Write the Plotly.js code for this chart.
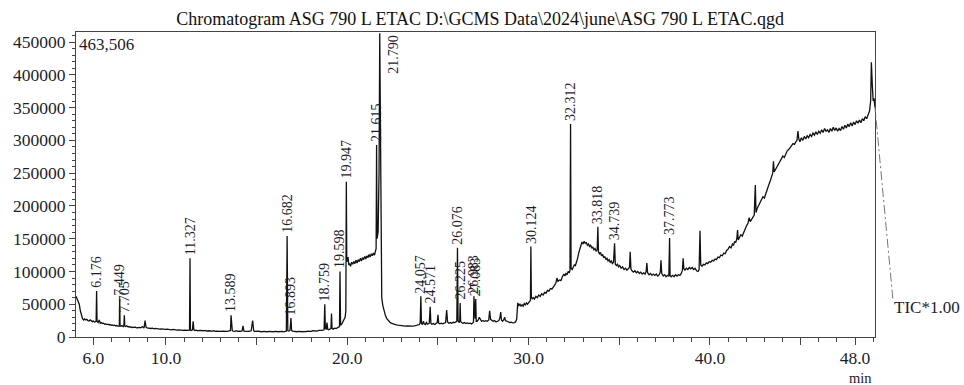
<!DOCTYPE html>
<html>
<head>
<meta charset="utf-8">
<script src="https://cdn.plot.ly/plotly-3.0.1.min.js"></script>
<style>html,body{margin:0;padding:0;background:#fff;}#chart{width:964px;height:385px;}</style>
</head>
<body>
<div id="chart"></div>
<script>
// Retention time (min) and TIC intensity
const ticPoints = [
[5.04,62000],[5.10,58000],[5.16,55000],[5.22,50000],[5.28,40000],[5.34,32000],[5.40,28000],[5.46,26000],[5.52,27500],[5.58,26000],[5.64,27000],[5.70,25000],[5.76,24500],[5.82,26000],[5.88,24000],[5.94,23500],[6.00,24500],[6.06,23000],[6.12,23500],
[6.15,24000],[6.176,70000],[6.20,24000],[6.26,22000],[6.32,26000],[6.38,21000],[6.44,22000],[6.50,20500],[6.56,21000],[6.62,19500],[6.68,20000],[6.74,19000],[6.80,19500],[6.86,18500],[6.92,19000],[6.98,18000],[7.04,18500],[7.10,17500],[7.16,18000],[7.22,17000],[7.28,17500],[7.34,16500],[7.40,17000],
[7.43,17000],[7.449,58000],[7.47,17000],[7.52,16500],[7.58,17500],[7.64,16000],[7.68,17000],[7.705,33000],[7.73,17000],[7.78,16000],[7.84,17000],[7.90,15500],[7.96,16000],[8.02,15000],[8.08,15500],[8.14,14500],[8.20,15000],[8.26,14500],[8.32,15000],[8.38,14000],[8.44,14500],[8.50,14000],[8.56,14500],[8.62,14000],[8.70,16000],[8.78,14000],
[8.80,15000],[8.85,25000],[8.90,15000],[8.96,14000],[9.02,13500],[9.10,14000],[9.18,13000],[9.26,13500],[9.34,12500],[9.42,13000],[9.50,12500],[9.58,13000],[9.66,12000],[9.74,12500],[9.82,12000],[9.90,12500],[9.98,11500],[10.06,12000],[10.14,11500],[10.22,12000],[10.30,11000],[10.38,11500],[10.46,11000],[10.54,11500],[10.62,10500],[10.70,11000],[10.78,10500],[10.86,11000],[10.94,10000],[11.02,10500],[11.10,10000],[11.18,10500],[11.26,10000],[11.30,10500],
[11.327,120000],[11.35,10500],[11.40,10000],[11.46,11000],[11.50,24000],[11.54,11000],[11.60,10000],[11.68,10500],[11.76,9500],[11.84,10000],[11.92,9500],[12.00,10000],[12.08,9500],[12.16,10000],[12.24,9000],[12.32,9500],[12.40,9000],[12.48,9500],[12.56,9000],[12.64,9500],[12.72,8500],[12.80,9000],[12.88,8500],[12.96,9000],[13.04,8500],[13.12,9000],[13.20,8500],[13.28,9000],[13.36,8500],[13.44,9000],[13.52,9500],[13.56,10000],
[13.589,33000],[13.62,12000],[13.66,9500],[13.72,9000],[13.80,8500],[13.88,9500],[13.96,8500],[14.04,9000],[14.12,8500],[14.20,9500],[14.25,17000],[14.30,9000],[14.38,8500],[14.46,9000],[14.54,8500],[14.62,9000],[14.70,9500],[14.78,25000],[14.84,9500],[14.90,8500],[14.98,9000],[15.06,8500],[15.14,9000],[15.22,8000],[15.30,8500],[15.38,8000],[15.46,8500],[15.54,8000],[15.62,8500],[15.70,8000],[15.78,8500],[15.86,8000],[15.94,8500],[16.02,8000],[16.10,8500],[16.18,8000],[16.26,8500],[16.34,8000],[16.42,8500],[16.50,8000],[16.58,8500],[16.64,9000],
[16.682,154000],[16.72,9500],[16.78,9000],[16.84,10000],[16.893,29000],[16.93,10000],[16.98,9000],[17.06,8500],[17.14,9000],[17.22,8000],[17.30,8500],[17.38,8000],[17.46,8500],[17.54,8000],[17.62,8500],[17.70,8000],[17.78,9000],[17.86,8500],[17.94,9000],[18.02,8500],[18.10,9500],[18.18,9000],[18.26,9500],[18.34,9000],[18.42,10000],[18.50,9500],[18.58,10000],[18.66,10500],[18.72,11000],
[18.759,50000],[18.79,13000],[18.84,12000],[18.88,22000],[18.92,12000],[18.98,11000],[19.04,12000],[19.10,13000],[19.13,36000],[19.16,13000],[19.22,12000],[19.30,13500],[19.38,13000],[19.46,14000],[19.54,15000],[19.57,16000],[19.598,100000],[19.63,18000],[19.70,20000],[19.76,23000],[19.82,26000],[19.88,30000],[19.92,40000],
[19.947,237000],[19.97,120000],[20.00,115000],[20.04,122000],[20.08,110000],[20.12,112000],[20.18,108000],[20.24,114000],[20.30,111000],[20.36,115000],[20.42,112000],[20.48,117000],[20.54,113000],[20.60,118000],[20.66,115000],[20.72,120000],[20.78,116000],[20.84,121000],[20.90,118000],[20.96,123000],[21.02,119000],[21.08,124000],[21.14,121000],[21.20,126000],[21.26,122000],[21.32,127000],[21.38,124000],[21.44,128000],[21.50,125000],[21.56,130000],[21.59,135000],
[21.615,293000],[21.64,150000],[21.70,160000],[21.75,250000],[21.79,463506],[21.82,300000],[21.86,90000],[21.90,60000],[21.96,48000],[22.02,40000],[22.10,33000],[22.18,28000],[22.26,25000],[22.34,23000],[22.42,21000],[22.50,20000],[22.60,19000],[22.70,18500],[22.80,18000],[22.90,17500],[23.00,17000],[23.10,17500],[23.20,16500],[23.30,17000],[23.40,16500],[23.50,17000],[23.60,16500],[23.70,17000],[23.80,17500],[23.90,18000],[23.98,19000],[24.02,22000],
[24.057,62000],[24.09,21000],[24.14,19000],[24.20,24000],[24.24,20000],[24.30,19000],[24.36,22000],[24.42,19500],[24.48,20000],[24.52,21000],[24.571,46000],[24.61,21000],[24.66,19500],[24.74,20500],[24.82,19000],[24.90,20000],[24.96,22000],[25.00,34000],[25.04,21000],[25.10,20000],[25.18,21000],[25.26,20000],[25.34,21500],[25.42,22000],[25.48,41000],[25.53,23000],[25.60,21000],[25.68,22000],[25.76,21000],[25.84,22500],[25.92,22000],[26.00,23000],[26.04,24000],
[26.076,136000],[26.11,25000],[26.16,22000],[26.20,24000],[26.225,52000],[26.25,24000],[26.30,22000],[26.38,21000],[26.46,22000],[26.54,20500],[26.62,21500],[26.70,20500],[26.78,21000],[26.86,20000],[26.92,21500],[26.96,23000],[26.983,62000],[27.02,30000],[27.05,28000],[27.083,58000],[27.11,24000],[27.16,24000],[27.22,26000],[27.28,30000],[27.34,26000],[27.40,24000],[27.48,25000],[27.56,24000],[27.64,25000],[27.72,24000],[27.80,26000],[27.85,40000],[27.90,27000],[27.96,25000],
[28.04,24000],[28.12,25000],[28.20,23000],[28.28,24000],[28.36,25000],[28.42,30000],[28.46,38000],[28.50,26000],[28.56,24000],[28.62,26000],[28.68,30000],[28.72,25000],[28.80,24000],[28.88,23000],[28.96,22000],[29.04,22500],[29.12,21500],[29.20,22000],[29.28,23000],[29.34,27000],[29.40,52000],[29.46,48000],[29.52,50000],[29.58,47000],[29.64,49000],[29.70,47000],[29.76,51000],[29.82,49000],[29.88,52000],[29.94,50000],[30.00,53000],[30.06,54000],[30.10,56000],
[30.124,138000],[30.15,62000],[30.20,58000],[30.26,60000],[30.32,58000],[30.40,62000],[30.48,60000],[30.56,64000],[30.64,62000],[30.72,66000],[30.80,64000],[30.88,68000],[30.96,67000],[31.04,71000],[31.12,70000],[31.20,74000],[31.28,73000],[31.36,77000],[31.44,80000],[31.50,82000],[31.56,90000],[31.62,85000],[31.70,87000],[31.78,86000],[31.86,92000],[31.94,96000],[32.00,93000],[32.06,97000],[32.12,95000],[32.18,100000],[32.24,98000],[32.28,102000],
[32.312,325000],[32.34,105000],[32.40,103000],[32.46,107000],[32.52,110000],[32.58,109000],[32.64,114000],[32.70,120000],[32.76,128000],[32.82,135000],[32.88,140000],[32.94,145000],[33.00,142000],[33.06,146000],[33.12,143000],[33.18,144000],[33.24,140000],[33.30,142000],[33.36,138000],[33.42,140000],[33.48,136000],[33.54,137000],[33.60,133000],[33.66,135000],[33.72,131000],[33.78,133000],
[33.818,168000],[33.85,130000],[33.90,127000],[33.96,129000],[34.02,124000],[34.08,126000],[34.14,121000],[34.20,123000],[34.26,118000],[34.32,120000],[34.38,116000],[34.44,118000],[34.50,114000],[34.56,116000],[34.62,112000],[34.68,114000],[34.739,143000],[34.78,111000],[34.84,109000],[34.90,111000],[34.96,107000],[35.02,109000],[35.10,105000],[35.18,107000],[35.26,103000],[35.34,105000],[35.42,102000],[35.50,104000],[35.56,106000],[35.60,130000],[35.64,104000],[35.70,101000],[35.78,99000],[35.86,101000],[35.94,98000],
[36.02,100000],[36.10,97000],[36.18,99000],[36.26,96000],[36.34,98000],[36.42,96000],[36.48,100000],[36.52,113000],[36.56,98000],[36.64,95000],[36.72,97000],[36.80,94000],[36.88,96000],[36.96,94000],[37.04,96000],[37.12,93000],[37.20,95000],[37.26,99000],[37.30,117000],[37.34,97000],[37.42,93000],[37.50,95000],[37.58,92000],[37.66,94000],[37.73,93000],
[37.773,151000],[37.80,94000],[37.86,92000],[37.94,94000],[38.02,92000],[38.10,95000],[38.18,93000],[38.26,95000],[38.34,94000],[38.42,97000],[38.48,102000],[38.52,120000],[38.56,104000],[38.62,102000],[38.70,105000],[38.78,103000],[38.86,106000],[38.94,104000],[39.02,106000],[39.10,103000],[39.18,105000],[39.26,101000],[39.34,100000],[39.40,103000],[39.45,162000],[39.49,110000],[39.56,108000],[39.64,111000],[39.72,110000],[39.80,113000],[39.88,112000],[39.96,115000],
[40.04,114000],[40.12,117000],[40.20,116000],[40.28,119000],[40.36,118000],[40.44,122000],[40.52,121000],[40.60,125000],[40.68,124000],[40.76,128000],[40.84,127000],[40.92,132000],[41.00,134000],[41.08,138000],[41.16,136000],[41.24,142000],[41.30,140000],[41.36,146000],[41.42,144000],[41.48,150000],[41.52,163000],[41.56,148000],[41.62,152000],[41.70,156000],[41.78,154000],[41.86,160000],[41.94,164000],
[42.02,170000],[42.10,174000],[42.16,182000],[42.22,176000],[42.30,180000],[42.38,184000],[42.44,186000],[42.50,232000],[42.54,190000],[42.60,196000],[42.68,200000],[42.76,204000],[42.84,208000],[42.92,214000],[43.00,212000],[43.08,220000],[43.16,226000],[43.24,232000],[43.32,238000],[43.40,244000],[43.46,250000],[43.50,268000],[43.54,252000],[43.62,256000],[43.70,260000],[43.78,264000],[43.86,268000],[43.94,272000],
[44.02,276000],[44.10,274000],[44.18,280000],[44.26,284000],[44.34,286000],[44.42,290000],[44.50,292000],[44.58,295000],[44.66,294000],[44.74,298000],[44.80,300000],[44.85,314000],[44.90,302000],[44.96,298000],[45.04,304000],[45.12,300000],[45.20,306000],[45.28,302000],[45.36,307000],[45.44,304000],[45.52,309000],[45.60,306000],[45.68,311000],[45.76,308000],[45.84,313000],[45.92,309000],
[46.00,314000],[46.08,311000],[46.16,316000],[46.24,312000],[46.32,318000],[46.40,314000],[46.48,316000],[46.56,312000],[46.64,318000],[46.72,314000],[46.80,320000],[46.88,315000],[46.96,319000],[47.04,314000],[47.12,318000],[47.20,315000],[47.28,321000],[47.36,317000],[47.44,323000],[47.52,319000],[47.60,325000],[47.68,321000],[47.76,327000],[47.84,322000],[47.92,328000],
[48.00,324000],[48.08,330000],[48.16,326000],[48.24,331000],[48.32,327000],[48.40,333000],[48.48,330000],[48.56,336000],[48.64,333000],[48.72,340000],[48.80,345000],[48.86,360000],[48.90,419000],[48.95,385000],[49.00,360000],[49.05,364000],[49.10,350000]
];
const retentionTime = ticPoints.map(p => p[0]);
const ticIntensity = ticPoints.map(p => p[1]);

// Peak labels
const peakTimes  = [6.176, 7.449, 7.705, 11.327, 13.589, 16.682, 16.893, 18.759, 19.598, 19.947, 21.615, 24.057, 24.571, 26.076, 26.225, 26.983, 27.083, 30.124, 32.312, 33.818, 34.739, 37.773];
const peakLabels = ["6.176","7.449","7.705","11.327","13.589","16.682","16.893","18.759","19.598","19.947","21.615","24.057","24.571","26.076","26.225","26.983","27.083","30.124","32.312","33.818","34.739","37.773"];
const topPeakTime = 21.79, topPeakLabel = "21.790";

const xTickVals = [6, 10, 15, 20, 25, 30, 35, 40, 45, 48];
const xTickText = ["6.0", "10.0", "", "20.0", "", "30.0", "", "40.0", "", "48.0"];

const titleText = "Chromatogram ASG 790 L ETAC D:\\GCMS Data\\2024\\june\\ASG 790 L ETAC.qgd";
const maxIntensityText = "463,506";
const traceLabel = "TIC*1.00";

const FONT = "Liberation Serif, Times New Roman, serif";
const TXT = "#1c1c2c";

function apexAt(t) {
  let best = 0;
  for (let i = 0; i < retentionTime.length; i++) {
    if (Math.abs(retentionTime[i] - t) < 0.02 && ticIntensity[i] > best) best = ticIntensity[i];
  }
  return best;
}

const annotations = peakTimes.map((t, i) => ({
  x: t, y: apexAt(t), xref: 'x', yref: 'y',
  text: peakLabels[i], textangle: -90, showarrow: false,
  xanchor: 'center', yanchor: 'bottom', yshift: 1,
  font: {family: FONT, size: 14, color: TXT}
}));
annotations.push({
  x: topPeakTime, y: 1, xref: 'x', yref: 'paper', text: topPeakLabel, textangle: -90,
  showarrow: false, xanchor: 'left', yanchor: 'top', xshift: 4, yshift: -1,
  font: {family: FONT, size: 14, color: TXT}
});
annotations.push({
  x: 0, y: 1, xref: 'paper', yref: 'paper', text: maxIntensityText, showarrow: false,
  xanchor: 'left', yanchor: 'top', xshift: 1, yshift: -1,
  font: {family: FONT, size: 17, color: TXT}
});
// leader line from trace end to the trace label
const lastT = retentionTime[retentionTime.length - 1];
const lastV = ticIntensity[ticIntensity.length - 1];
annotations.push({
  x: lastT, y: lastV, xref: 'x', yref: 'y', text: ' ', showarrow: true,
  arrowhead: 0, arrowwidth: 1, arrowcolor: '#777', ax: 18, ay: 193, standoff: 0,
  font: {size: 1}
});
annotations.push({
  x: 1.021, y: 0.098, xref: 'paper', yref: 'paper', text: traceLabel, showarrow: false,
  xanchor: 'left', yanchor: 'middle',
  font: {family: FONT, size: 17, color: TXT}
});
annotations.push({
  x: 0.982, y: -0.136, xref: 'paper', yref: 'paper', text: 'min', showarrow: false,
  xanchor: 'center', yanchor: 'middle',
  font: {family: FONT, size: 14.5, color: TXT}
});

const trace = {
  x: retentionTime, y: ticIntensity, type: 'scatter', mode: 'lines',
  line: {color: '#111', width: 1.3}, hoverinfo: 'skip'
};

const layout = {
  width: 964, height: 385,
  margin: {l: 76, r: 89, t: 32, b: 48},
  paper_bgcolor: '#fff', plot_bgcolor: '#fff',
  showlegend: false, hovermode: false,
  title: {text: titleText, x: 0.498, xref: 'container', y: 0.952, yref: 'container', yanchor: 'middle',
          font: {family: FONT, size: 18, color: '#111'}},
  xaxis: {
    range: [5.04, 49.1], showgrid: false, zeroline: false,
    showline: true, mirror: true, linecolor: '#444', linewidth: 1,
    ticks: 'outside', ticklen: 7, tickcolor: '#444', tickwidth: 1,
    tickmode: 'array', tickvals: xTickVals, ticktext: xTickText,
    ticklabelstandoff: -2,
    tickfont: {family: FONT, size: 17.5, color: TXT},
    minor: {tickmode: 'linear', tick0: 0, dtick: 1, ticks: 'outside', ticklen: 4, tickcolor: '#444', showgrid: false}
  },
  yaxis: {
    range: [0, 465300], showgrid: false, zeroline: false,
    showline: true, mirror: true, linecolor: '#444', linewidth: 1,
    ticks: 'outside', ticklen: 6, tickcolor: '#444', tickwidth: 1,
    tickmode: 'linear', tick0: 0, dtick: 50000, tickformat: 'd',
    tickfont: {family: FONT, size: 17.5, color: TXT},
    minor: {tickmode: 'linear', tick0: 0, dtick: 10000, ticks: 'outside', ticklen: 3, tickcolor: '#444', showgrid: false}
  },
  annotations: annotations
};

Plotly.newPlot('chart', [trace], layout, {staticPlot: true, displayModeBar: false}).then(() => {
  document.querySelectorAll('g.annotation-arrow-g path').forEach(p => {
    p.style.strokeDasharray = '9,3,2,3';
  });
});
</script>
</body>
</html>
